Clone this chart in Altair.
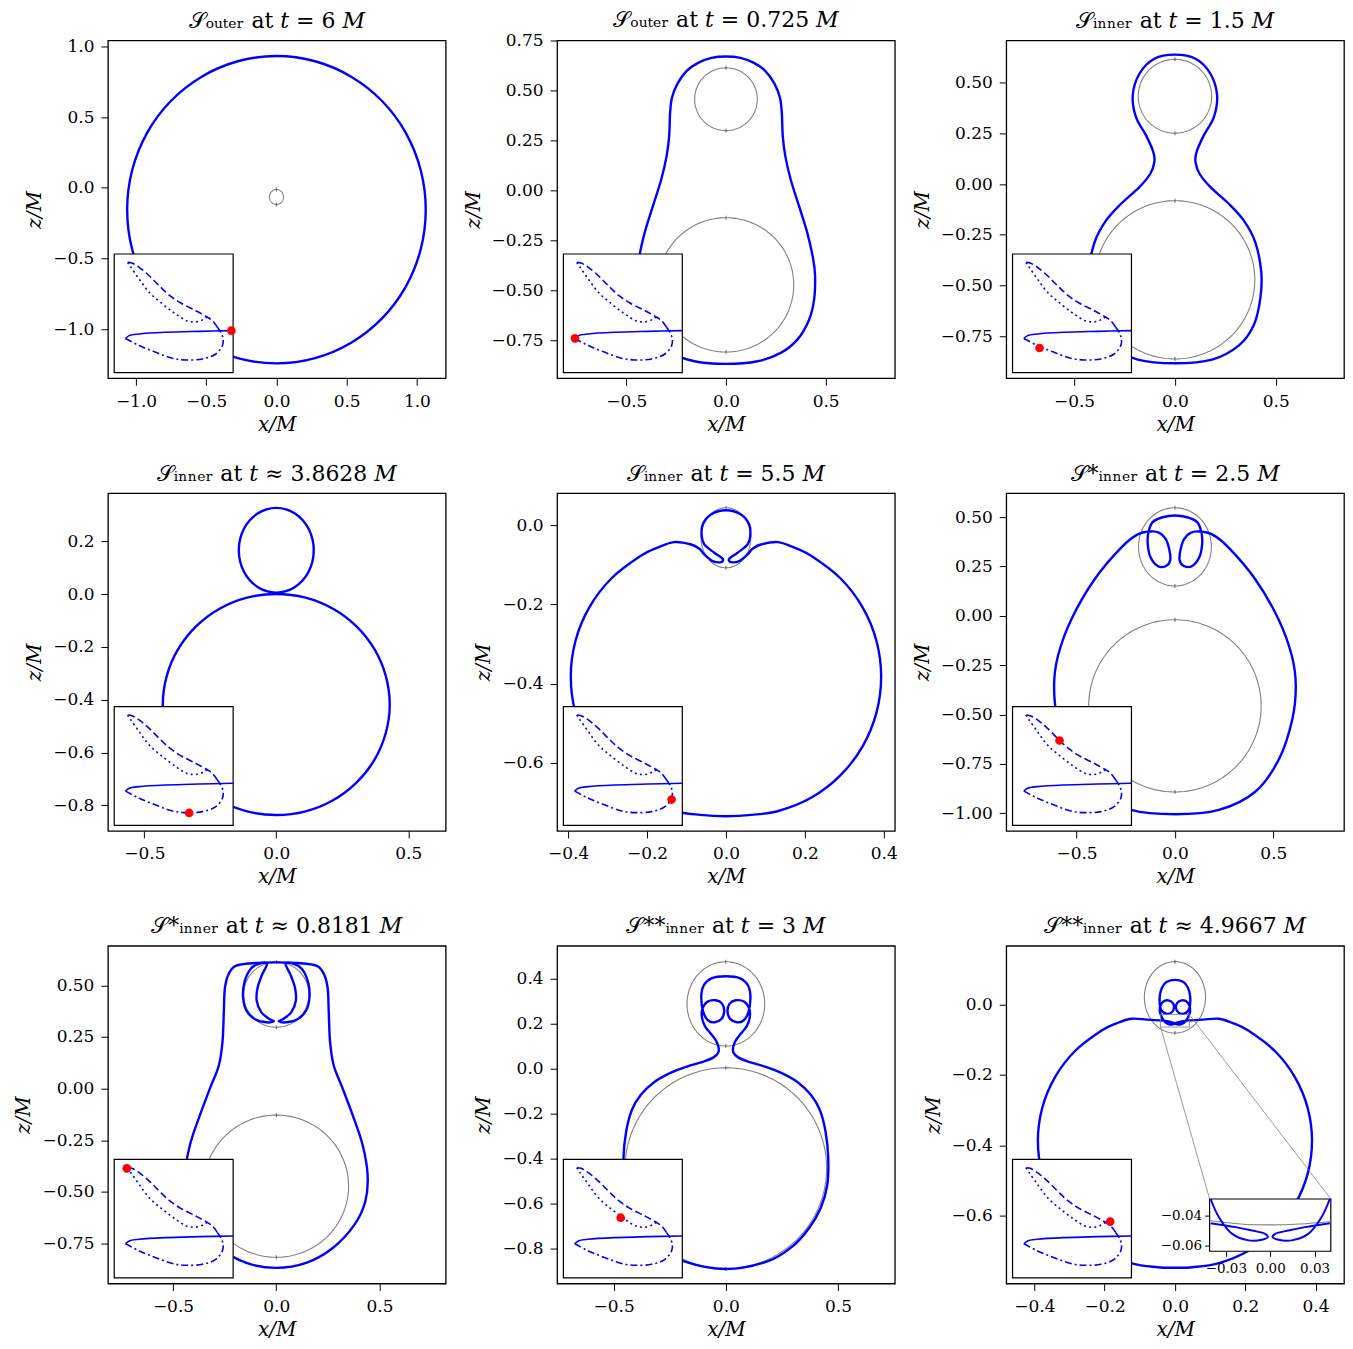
import numpy as np
import pandas as pd
import altair as alt

# ---------------- values ----------------
TITLES = [
    "𝒮ₒᵤₜₑᵣ at 𝑡 = 6 𝑀",
    "𝒮ₒᵤₜₑᵣ at 𝑡 = 0.725 𝑀",
    "𝒮ᵢₙₙₑᵣ at 𝑡 = 1.5 𝑀",
    "𝒮ᵢₙₙₑᵣ at 𝑡 ≈ 3.8628 𝑀",
    "𝒮ᵢₙₙₑᵣ at 𝑡 = 5.5 𝑀",
    "𝒮*ᵢₙₙₑᵣ at 𝑡 = 2.5 𝑀",
    "𝒮*ᵢₙₙₑᵣ at 𝑡 ≈ 0.8181 𝑀",
    "𝒮**ᵢₙₙₑᵣ at 𝑡 = 3 𝑀",
    "𝒮**ᵢₙₙₑᵣ at 𝑡 ≈ 4.9667 𝑀",
]
X_DOMAINS = [[-1.2, 1.205], [-0.847, 0.847], [-0.836, 0.838], [-0.638, 0.642], [-0.428, 0.428],
             [-0.857, 0.859], [-0.815, 0.82], [-0.752, 0.753], [-0.48, 0.481]]
Z_DOMAINS = [[-1.347, 1.042], [-0.94, 0.75], [-0.957, 0.708], [-0.897, 0.383], [-0.773, 0.082],
             [-1.089, 0.621], [-0.943, 0.691], [-0.958, 0.548], [-0.793, 0.167]]
X_TICKS = [[-1, -0.5, 0, 0.5, 1], [-0.5, 0, 0.5], [-0.5, 0, 0.5], [-0.5, 0, 0.5], [-0.4, -0.2, 0, 0.2, 0.4],
           [-0.5, 0, 0.5], [-0.5, 0, 0.5], [-0.5, 0, 0.5], [-0.4, -0.2, 0, 0.2, 0.4]]
Z_TICKS = [[-1, -0.5, 0, 0.5, 1], [-0.75, -0.5, -0.25, 0, 0.25, 0.5, 0.75], [-0.75, -0.5, -0.25, 0, 0.25, 0.5],
           [-0.8, -0.6, -0.4, -0.2, 0, 0.2], [-0.6, -0.4, -0.2, 0], [-1, -0.75, -0.5, -0.25, 0, 0.25, 0.5],
           [-0.75, -0.5, -0.25, 0, 0.25, 0.5], [-0.8, -0.6, -0.4, -0.2, 0, 0.2, 0.4], [-0.6, -0.4, -0.2, 0]]
Z_FMT = [".1f", ".2f", ".2f", ".1f", ".1f", ".2f", ".2f", ".1f", ".1f"]

# blue MOTS curves (right halves x>=0 from top to bottom, or closed lobes)
P1_X = [0, 0.275, 0.532, 0.752, 0.921, 1.027, 1.063, 1.027, 0.921, 0.752, 0.532, 0.275, 0]
P1_Z = [0.932, 0.895, 0.786, 0.614, 0.389, 0.126, -0.155, -0.436, -0.699, -0.924, -1.096, -1.205, -1.242]

P2_X = [0, 0.0725, 0.14, 0.198, 0.2425, 0.2705, 0.28, 0.285, 0.298, 0.325, 0.367, 0.408, 0.438, 0.447, 0.442,
        0.417, 0.358, 0.275, 0.158, 0]
P2_Z = [0.67, 0.663, 0.638, 0.597, 0.535, 0.465, 0.39, 0.27, 0.17, 0.053, -0.08, -0.213, -0.347, -0.43, -0.547,
        -0.647, -0.747, -0.813, -0.855, -0.868]

P3_X = [0, 0.102, 0.176, 0.209, 0.193, 0.143, 0.107, 0.102, 0.122, 0.176, 0.267, 0.341, 0.398, 0.428, 0.423, 0.39, 0.316, 0.184, 0]
P3_Z = [0.638, 0.618, 0.544, 0.438, 0.33, 0.24, 0.158, 0.109, 0.051, -0.015, -0.097, -0.179, -0.286, -0.434, -0.566, -0.697, -0.796, -0.865, -0.883]

P4A_X = [0, 0.0368, 0.071, 0.1004, 0.123, 0.1372, 0.142, 0.1372, 0.123, 0.1004, 0.071, 0.0368, 0]
P4A_Z = [0.327, 0.3215, 0.3055, 0.28, 0.2468, 0.208, 0.1665, 0.125, 0.0862, 0.053, 0.0275, 0.0115, 0.006]
P4B_X = [0, 0.111, 0.215, 0.304, 0.372, 0.415, 0.43, 0.415, 0.372, 0.304, 0.215, 0.111, 0]
P4B_Z = [0.001, -0.013, -0.055, -0.122, -0.2085, -0.3096, -0.418, -0.526, -0.628, -0.714, -0.781, -0.823, -0.837]

P5_X = [0, 0.0379, 0.0589, 0.0615, 0.0547, 0.0295, 0.0084, 0.0126, 0.0337, 0.0547, 0.0674, 0.0884, 0.1317,
        0.175, 0.2168, 0.2899, 0.346, 0.3813, 0.3933, 0.3813, 0.346, 0.2899, 0.2168, 0.135, 0.065, 0]
P5_Z = [0.0387, 0.0278, 0.0025, -0.0269, -0.048, -0.069, -0.0842, -0.0926, -0.09, -0.0732, -0.0589, -0.048, -0.042,
        -0.0567, -0.0773, -0.1334, -0.2065, -0.2916, -0.383, -0.4744, -0.5595, -0.6326, -0.6887, -0.722, -0.7325,
        -0.736]

P6_X = [0, 0.0624, 0.113, 0.135, 0.138, 0.125, 0.0877, 0.0455, 0.0236, 0.0287, 0.0472, 0.0793, 0.121, 0.189,
        0.273, 0.408, 0.526, 0.594, 0.614, 0.597, 0.53, 0.408, 0.223, 0]
P6_Z = [0.508, 0.499, 0.474, 0.42, 0.361, 0.299, 0.252, 0.252, 0.282, 0.336, 0.39, 0.42, 0.427, 0.412,
        0.345, 0.185, -0.017, -0.202, -0.353, -0.521, -0.723, -0.891, -0.983, -1.005]

P7_OUT_X = [0, 0.1, 0.1961, 0.2331, 0.2492, 0.254, 0.2605, 0.2781, 0.3215, 0.3698, 0.418, 0.4421, 0.4309,
            0.3778, 0.2733, 0.1447, 0]
P7_OUT_Z = [0.611, 0.608, 0.594, 0.549, 0.482, 0.369, 0.225, 0.112, 0, -0.1285, -0.273, -0.418, -0.546,
            -0.659, -0.771, -0.843, -0.867]
P7_LOBE_X = [0.045, 0.0675, 0.09, 0.0949, 0.0723, 0.0289, 0.0129, 0.0482, 0.1045, 0.1447, 0.1608, 0.1543, 0.1254, 0.085]
P7_LOBE_Z = [0.604, 0.554, 0.49, 0.426, 0.369, 0.334, 0.326, 0.321, 0.337, 0.378, 0.442, 0.514, 0.578, 0.604]

P8_X = [0, 0.0637, 0.0993, 0.1096, 0.1007, 0.0785, 0.0489, 0.0193, 0.0074, 0.0163, 0.0444, 0.0815, 0.1037,
        0.1067, 0.0933, 0.0667, 0.0444, 0.0326, 0.0341, 0.0548, 0.0963, 0.1704, 0.2444, 0.3185, 0.3778, 0.4193,
        0.4444, 0.4563, 0.4519, 0.4222, 0.3704, 0.2963, 0.1852, 0]
P8_Z = [0.412, 0.403, 0.37, 0.319, 0.252, 0.215, 0.207, 0.222, 0.255, 0.289, 0.305, 0.299, 0.27,
        0.23, 0.19, 0.156, 0.126, 0.096, 0.0711, 0.0504, 0.0326, 0.0104, -0.0178, -0.0593, -0.1156, -0.1852,
        -0.2815, -0.4, -0.5185, -0.6222, -0.7111, -0.7926, -0.8593, -0.8933]

P9_TOP_X = [0, 0.024, 0.037, 0.043, 0.043, 0.038, 0.025, 0.01, 0.003, 0.006, 0.019, 0.034, 0.042, 0.043]
P9_TOP_Z = [0.07, 0.064, 0.048, 0.025, 0.0, -0.017, -0.026, -0.023, -0.01, 0.004, 0.012, 0.008, -0.006, -0.02]
P9_LOBE_X = [0.0403, 0.0347, 0.0257, 0.0146, 0.0056, 0.0016, 0.0034, 0.0123, 0.0235, 0.0403]
P9_LOBE_Z = [-0.0285, -0.0409, -0.0522, -0.0566, -0.0562, -0.0544, -0.0522, -0.0499, -0.0476, -0.0449]
P9_BIG_X = [0.08, 0.125, 0.165, 0.2096, 0.2843, 0.3416, 0.3777, 0.39, 0.3777, 0.3416, 0.2843, 0.2096, 0.1225,
            0.05, 0]
P9_BIG_Z = [-0.0428, -0.0405, -0.053, -0.0747, -0.1321, -0.2068, -0.2939, -0.3873, -0.4807, -0.5678, -0.6425,
            -0.6999, -0.7359, -0.7465, -0.748]

# gray horizons: (centre x, centre z, radius x, radius z)
GRAYS = [
    [(0, -0.065, 0.05, 0.053)],
    [(0, 0.456, 0.157, 0.157), (0, -0.473, 0.34, 0.336)],
    [(0, 0.433, 0.182, 0.182), (0, -0.472, 0.396, 0.39)],
    [],
    [(0, -0.031, 0.063, 0.076)],
    [(0, 0.349, 0.185, 0.198), (0, -0.456, 0.438, 0.436)],
    [(0, 0.455, 0.158, 0.158), (0, -0.472, 0.35, 0.344)],
    [(0, 0.289, 0.173, 0.188), (0, -0.444, 0.449, 0.448)],
    [(0, 0.0205, 0.087, 0.1015)],
]

# small zoom inset of the last panel
ZOOM_X = [-0.041, 0.041]
ZOOM_Z = [-0.064, -0.0285]
ZGRAY_X = [-0.041, -0.02, 0, 0.02, 0.041]
ZGRAY_Z = [-0.0431, -0.0455, -0.0461, -0.0455, -0.0438]

# inset trajectory (normalised inset coordinates)
SOLID_U = [1.0, 0.714, 0.434, 0.21, 0.126, 0.095]
SOLID_V = [0.354, 0.348, 0.34, 0.326, 0.312, 0.288]
DASHDOT_U = [0.095, 0.21, 0.35, 0.49, 0.602, 0.742, 0.854, 0.91, 0.916, 0.896, 0.868]
DASHDOT_V = [0.288, 0.228, 0.171, 0.121, 0.107, 0.115, 0.157, 0.228, 0.284, 0.34, 0.382]
DASHED_U = [0.868, 0.826, 0.776, 0.686, 0.56, 0.462, 0.378, 0.294, 0.21, 0.148, 0.112]
DASHED_V = [0.382, 0.438, 0.472, 0.522, 0.587, 0.654, 0.733, 0.817, 0.888, 0.924, 0.93]
DOTTED_U = [0.112, 0.14, 0.21, 0.294, 0.406, 0.518, 0.616, 0.7, 0.756, 0.784]
DOTTED_V = [0.93, 0.888, 0.789, 0.677, 0.579, 0.494, 0.435, 0.43, 0.452, 0.472]
RED_U = [0.985, 0.098, 0.227, 0.63, 0.91, 0.395, 0.106, 0.482, 0.821]
RED_V = [0.354, 0.289, 0.208, 0.104, 0.217, 0.715, 0.924, 0.508, 0.475]

# ---------------- styling / layout ----------------
BLUE = "#0000ff"
GRAY = "#808080"
FONT = "DejaVu Serif"
W = 338
H = 338
IN_L, IN_R = 6.3, 125.3
IN_B = H - 5.6
IN_T = IN_B - 118.7
ZIN_L, ZIN_R = 203.5, 324.8
ZIN_B = H - 32.3
ZIN_T = ZIN_B - 52.3
TITLE_OFFSETS = [4.9, -1.0, 7.5, 7.5, 7.5, 7.5, 7.5, 7.5, 7.5]

STROKES = [
    [(P1_X, P1_Z, "sym")],
    [(P2_X, P2_Z, "sym")],
    [(P3_X, P3_Z, "sym")],
    [(P4A_X, P4A_Z, "sym"), (P4B_X, P4B_Z, "sym")],
    [(P5_X, P5_Z, "sym")],
    [(P6_X, P6_Z, "sym")],
    [(P7_OUT_X, P7_OUT_Z, "sym"), (P7_LOBE_X, P7_LOBE_Z, "pair")],
    [(P8_X, P8_Z, "sym")],
    [(P9_TOP_X + P9_LOBE_X + P9_BIG_X, P9_TOP_Z + P9_LOBE_Z + P9_BIG_Z, "sym")],
]


def strokes_df(strokes):
    rows = []
    cid = 0
    for xs, zs, kind in strokes:
        pts = list(zip(xs, zs))
        if kind == "sym":
            loops = [pts + [(-x, z) for x, z in reversed(pts[1:-1])]]
        else:
            loops = [pts, [(-x, z) for x, z in pts]]
        for loop in loops:
            for k, (x, z) in enumerate(loop):
                rows.append({"x": x, "z": z, "cid": cid, "k": k})
            cid += 1
    return pd.DataFrame(rows)


def gray_df(circles):
    rows = []
    t = np.linspace(0, 2 * np.pi, 181)
    for cid, (cx, cz, rx, rz) in enumerate(circles):
        for k, tt in enumerate(t):
            rows.append({"x": cx + rx * np.sin(tt), "z": cz + rz * np.cos(tt), "cid": cid, "k": k})
    return pd.DataFrame(rows)


def gray_ends_df(circles):
    rows = []
    for cx, cz, rx, rz in circles:
        rows.append({"x": cx, "z": cz + rz})
        rows.append({"x": cx, "z": cz - rz})
    return pd.DataFrame(rows)


def open_df(xs, zs, mirror=False):
    rows = [{"x": x, "z": z, "cid": 0, "k": k} for k, (x, z) in enumerate(zip(xs, zs))]
    if mirror:
        rows += [{"x": -x, "z": z, "cid": 1, "k": k} for k, (x, z) in enumerate(zip(xs, zs))]
    return pd.DataFrame(rows)


def inset_layers(i):
    ix = alt.Scale(domain=[0, 1], range=[IN_L, IN_R], nice=False, zero=False)
    iy = alt.Scale(domain=[0, 1], range=[IN_B, IN_T], nice=False, zero=False)
    out = []
    frame = pd.DataFrame({"a": [0], "b": [1], "c": [0], "d": [1]})
    out.append(alt.Chart(frame).mark_rect(fill="white", stroke="black", strokeWidth=1.2).encode(
        x=alt.X("a:Q", scale=ix, axis=None), x2="b:Q",
        y=alt.Y("c:Q", scale=iy, axis=None), y2="d:Q"))
    for us, vs, dash in [(SOLID_U, SOLID_V, None), (DASHDOT_U, DASHDOT_V, [7, 3, 2, 3]),
                         (DASHED_U, DASHED_V, [7, 3.5]), (DOTTED_U, DOTTED_V, [2, 3.2])]:
        df = pd.DataFrame({"u": us, "v": vs, "k": list(range(len(us)))})
        props = dict(color=BLUE, strokeWidth=1.6, interpolate="catmull-rom")
        if dash is not None:
            props["strokeDash"] = dash
        out.append(alt.Chart(df).mark_line(**props).encode(
            x=alt.X("u:Q", scale=ix, axis=None), y=alt.Y("v:Q", scale=iy, axis=None), order="k:Q"))
    red = pd.DataFrame({"u": [RED_U[i]], "v": [RED_V[i]]})
    out.append(alt.Chart(red).mark_circle(color="red", size=75, opacity=1).encode(
        x=alt.X("u:Q", scale=ix, axis=None), y=alt.Y("v:Q", scale=iy, axis=None)))
    return out


def panel(i):
    x0, x1 = X_DOMAINS[i]
    z0, z1 = Z_DOMAINS[i]
    xs = alt.Scale(domain=[x0, x1], nice=False, zero=False)
    zs = alt.Scale(domain=[z0, z1], nice=False, zero=False)
    layers = []
    if GRAYS[i]:
        layers.append(alt.Chart(gray_df(GRAYS[i])).mark_line(color=GRAY, strokeWidth=1.1).encode(
            x=alt.X("x:Q", scale=xs, axis=None), y=alt.Y("z:Q", scale=zs, axis=None),
            detail="cid:N", order="k:Q"))
        layers.append(alt.Chart(gray_ends_df(GRAYS[i])).mark_tick(
            orient="vertical", color="#333333", size=4, thickness=1).encode(
            x=alt.X("x:Q", scale=xs, axis=None), y=alt.Y("z:Q", scale=zs, axis=None)))
    layers.append(alt.Chart(strokes_df(STROKES[i])).mark_line(
        color=BLUE, strokeWidth=2.4, interpolate="cardinal-closed", tension=0).encode(
        x=alt.X("x:Q", scale=xs, axis=alt.Axis(values=X_TICKS[i], format=".1f", title="x/M")),
        y=alt.Y("z:Q", scale=zs, axis=alt.Axis(values=Z_TICKS[i], format=Z_FMT[i], title="z/M")),
        detail="cid:N", order="k:Q"))

    if i == 8:
        def px_x(px):
            return x0 + px / W * (x1 - x0)

        def py_z(py):
            return z1 - py / H * (z1 - z0)
        box = pd.DataFrame({"a": [ZOOM_X[0]], "b": [ZOOM_X[1]], "c": [ZOOM_Z[0]], "d": [ZOOM_Z[1]]})
        layers.append(alt.Chart(box).mark_rect(fillOpacity=0, stroke=GRAY, strokeWidth=0.8).encode(
            x=alt.X("a:Q", scale=xs, axis=None), x2="b:Q", y=alt.Y("c:Q", scale=zs, axis=None), y2="d:Q"))
        con = pd.DataFrame({"x": [ZOOM_X[0], ZOOM_X[1]], "z": [ZOOM_Z[0], ZOOM_Z[1]],
                            "x2": [px_x(ZIN_L), px_x(ZIN_R)], "z2": [py_z(ZIN_T), py_z(ZIN_T)]})
        layers.append(alt.Chart(con).mark_rule(color=GRAY, strokeWidth=0.8).encode(
            x=alt.X("x:Q", scale=xs, axis=None), x2="x2:Q", y=alt.Y("z:Q", scale=zs, axis=None), y2="z2:Q"))

    layers += inset_layers(i)

    if i == 8:
        zx = alt.Scale(domain=ZOOM_X, range=[ZIN_L, ZIN_R], nice=False, zero=False)
        zz = alt.Scale(domain=ZOOM_Z, range=[ZIN_B, ZIN_T], nice=False, zero=False)
        zbox = pd.DataFrame({"a": [ZOOM_X[0]], "b": [ZOOM_X[1]], "c": [ZOOM_Z[0]], "d": [ZOOM_Z[1]]})
        layers.append(alt.Chart(zbox).mark_rect(fill="white", stroke="black", strokeWidth=1.2).encode(
            x=alt.X("a:Q", scale=zx, axis=alt.Axis(values=[-0.03, 0, 0.03], format=".2f", orient="bottom",
                                                  offset=ZIN_B - H, title="", labelFontSize=13.5,
                                                  tickSize=5, labelPadding=5, zindex=2)),
            x2="b:Q",
            y=alt.Y("c:Q", scale=zz, axis=alt.Axis(values=[-0.06, -0.04], format=".2f", orient="left",
                                                  offset=-ZIN_L, title="", labelFontSize=13.5,
                                                  tickSize=5, labelPadding=3, zindex=2)),
            y2="d:Q"))
        layers.append(alt.Chart(open_df(ZGRAY_X, ZGRAY_Z)).mark_line(
            color=GRAY, strokeWidth=1.1, interpolate="catmull-rom").encode(
            x=alt.X("x:Q", scale=zx, axis=None), y=alt.Y("z:Q", scale=zz, axis=None),
            detail="cid:N", order="k:Q"))
        layers.append(alt.Chart(open_df(P9_LOBE_X, P9_LOBE_Z, mirror=True)).mark_line(
            color=BLUE, strokeWidth=2.0, interpolate="catmull-rom").encode(
            x=alt.X("x:Q", scale=zx, axis=None), y=alt.Y("z:Q", scale=zz, axis=None),
            detail="cid:N", order="k:Q"))

    return alt.layer(*layers).resolve_scale(x="independent", y="independent").properties(
        width=W, height=H, title=alt.TitleParams(TITLES[i], offset=TITLE_OFFSETS[i]))


chart = alt.concat(*[panel(i) for i in range(9)], columns=3,
                   spacing={"row": 115, "column": 111.5}, bounds="flush",
                   padding={"left": 5, "top": 0, "right": 0, "bottom": 0}).configure_view(
    stroke="black", strokeWidth=1.3).configure_axis(
    grid=False, domain=False, tickColor="black", tickWidth=1, tickSize=7,
    labelFont=FONT, labelFontSize=17, labelColor="black", labelPadding=7,
    titleFont=FONT, titleFontSize=20, titleFontStyle="italic", titleFontWeight="normal",
    titleColor="black").configure_axisY(titlePadding=8).configure_axisX(
    titlePadding=5, labelPadding=8).configure_title(
    font=FONT, fontSize=22, fontWeight="normal", color="black")

chart.save("out.html", embed_options={"renderer": "svg", "actions": False})
